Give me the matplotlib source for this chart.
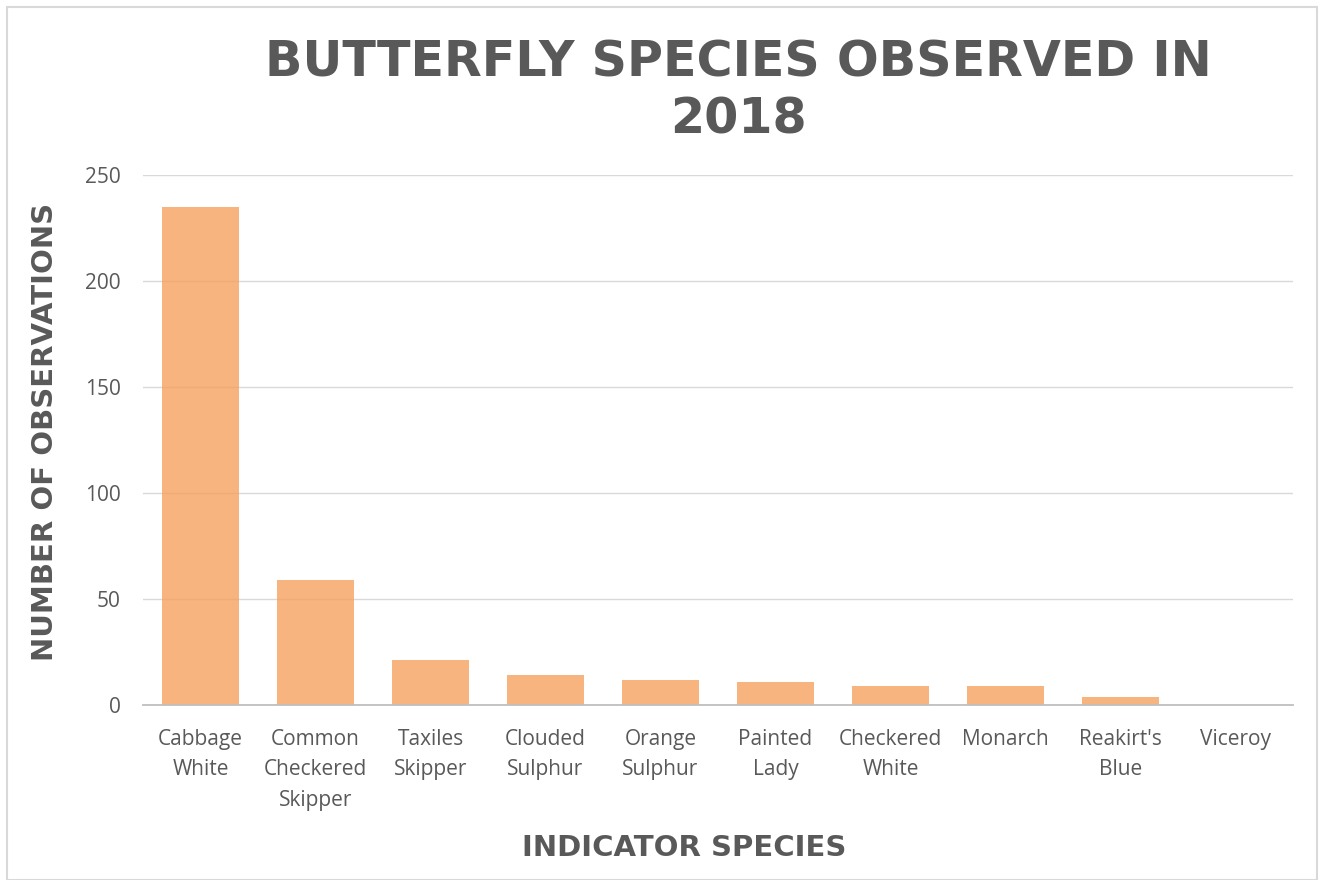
"""Bar chart of butterfly species observed in 2018."""
import matplotlib.pyplot as plt
from matplotlib.patches import Rectangle

species = [
    "Cabbage\nWhite",
    "Common\nCheckered\nSkipper",
    "Taxiles\nSkipper",
    "Clouded\nSulphur",
    "Orange\nSulphur",
    "Painted\nLady",
    "Checkered\nWhite",
    "Monarch",
    "Reakirt's\nBlue",
    "Viceroy",
]
observations = [235, 59, 21, 14, 12, 11, 9, 9, 4, 0]
y_ticks = [0, 50, 100, 150, 200, 250]

text_grey = "#595959"
heading_font = "DejaVu Sans"

fig = plt.figure(figsize=(13.2, 8.8), dpi=100)
ax = fig.add_axes([143 / 1320, 1 - 705 / 880, 1150 / 1320, 530 / 880])

ax.bar(range(len(species)), observations, width=0.67,
       color="#F6A15E", alpha=0.8, zorder=3)

ax.set_xlim(-0.5, len(species) - 0.5)
ax.set_ylim(0, 250)
ax.set_yticks(y_ticks)
ax.yaxis.grid(True, color="#D9D9D9", linewidth=1, zorder=4)
ax.set_axisbelow(False)
for side in ["top", "right", "left"]:
    ax.spines[side].set_visible(False)
ax.spines["bottom"].set_color("#BFBFBF")
ax.spines["bottom"].set_linewidth(1.3)
ax.spines["bottom"].set_zorder(5)

ax.set_xticks(range(len(species)))
ax.set_xticklabels(species, linespacing=1.6, va="top")
ax.tick_params(axis="both", length=0, colors=text_grey, labelsize=15)
ax.tick_params(axis="x", pad=17)
ax.tick_params(axis="y", pad=16)
for lbl in ax.get_xticklabels() + ax.get_yticklabels():
    lbl.set_family("Open Sans")

fig.text(738 / 1320, 1 - 91 / 880, "BUTTERFLY SPECIES OBSERVED IN\n2018",
         ha="center", va="center", fontsize=35.4, fontweight="bold",
         family=heading_font, color=text_grey, linespacing=1.23)
fig.text(45 / 1320, 1 - 432 / 880, "NUMBER OF OBSERVATIONS", rotation=90,
         ha="center", va="center", fontsize=21, fontweight="bold",
         family=heading_font, color=text_grey)
fig.text(684 / 1320, 1 - 848 / 880, "INDICATOR SPECIES",
         ha="center", va="center", fontsize=21, fontweight="bold",
         family=heading_font, color=text_grey)

fig.patches.append(Rectangle((7 / 1320, 0), 1310 / 1320, 1 - 7 / 880,
                             transform=fig.transFigure, fill=False,
                             edgecolor="#D9D9D9", linewidth=1.5))

fig.savefig("out.png", dpi=100)
